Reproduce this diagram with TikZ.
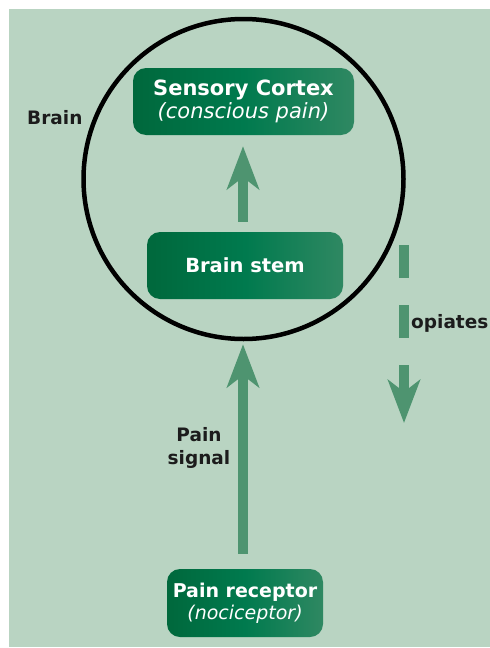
\documentclass[tikz,border=0pt]{standalone}
\usepackage{fontspec}
\setmainfont{DejaVu Sans}
\usetikzlibrary{arrows.meta}
\definecolor{bg}{HTML}{B9D4C2}
\definecolor{arr}{HTML}{4E9470}
\definecolor{boxL}{HTML}{00683C}
\definecolor{boxM}{HTML}{007A4E}
\definecolor{boxR}{HTML}{2F8862}
\definecolor{txt}{HTML}{1C1C1C}
\begin{document}
\begin{tikzpicture}[x=1pt,y=-1pt,
  gbox/.style={rounded corners=13pt, left color=boxL, right color=boxR, middle color=boxM,
    text=white, align=center, inner sep=0pt},
  lbl/.style={text=txt, font=\fontsize{18.5}{23}\selectfont\bfseries, align=center, inner sep=0pt},
  bigarrow/.style={draw=arr, line width=10.5pt, -{Stealth[length=43pt,width=32pt,inset=12pt]}}]
\useasboundingbox (0,0) rectangle (490,648);
\fill[white] (0,0) rectangle (490,648);
\fill[bg] (9,9) rectangle (490,647);
% brain circle
\node[circle, draw=black, line width=4.5pt, inner sep=0pt, minimum size=320pt] (brain) at (243.5,179) {};
% boxes
\node[gbox, minimum width=221pt, minimum height=67pt,
  font=\fontsize{21}{23}\selectfont] (cortex) at (243.5,101.5)
  {\bfseries Sensory Cortex\\\itshape (conscious pain)};
\node[gbox, minimum width=196pt, minimum height=67pt,
  font=\fontsize{19.5}{22}\selectfont\bfseries] (stem) at (245,265.5) {Brain stem};
\node[gbox, minimum width=156pt, minimum height=68pt,
  font=\fontsize{19}{22}\selectfont] (receptor) at (245,603)
  {\bfseries Pain receptor\\\itshape (nociceptor)};
% arrows
\draw[bigarrow, shorten <=10pt, shorten >=11pt] (stem.north -| 243,0) -- (cortex.south -| 243,0);
\draw[bigarrow, shorten <=15pt, shorten >=3pt] (receptor.north -| 243,0) -- (brain.south -| 243,0);
\coordinate (opA) at (404,245);
\coordinate (opB) at (404,423);
\draw[bigarrow, dash pattern=on 33pt off 27pt] (opA) -- (opB);
% labels
\node[lbl, anchor=base west] (brainlbl) at (27,124) {Brain};
\node[lbl, anchor=base west] (oplbl) at (411,328) {opiates};
\node[lbl] (signal) at (199,448) {Pain\\signal};
\end{tikzpicture}
\end{document}
